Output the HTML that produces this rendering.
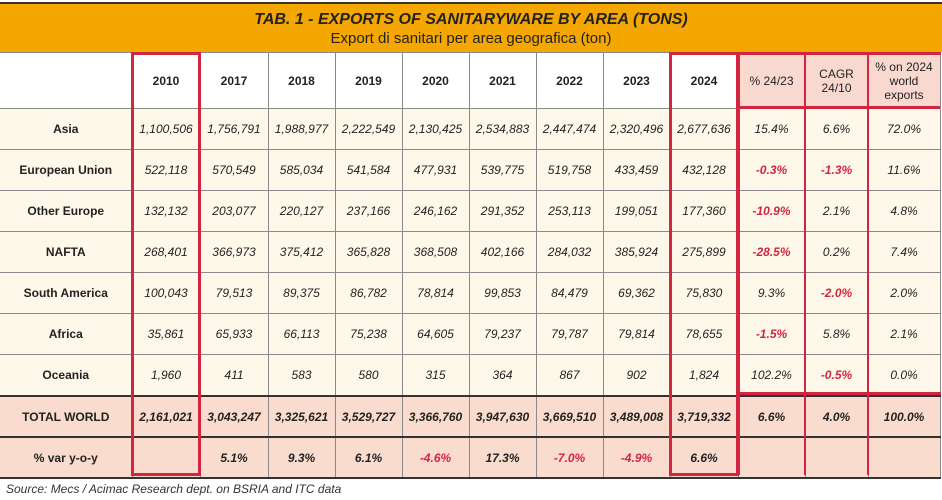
<!DOCTYPE html>
<html><head><meta charset="utf-8"><style>
body{margin:0;width:942px;height:500px;background:#fff;font-family:"Liberation Sans",sans-serif;position:relative;overflow:hidden}
.hd{position:absolute;left:0;top:2px;width:942px;height:50px;background:#F4A700;border-top:2px solid #3a3024;box-sizing:border-box;text-align:center}
.hd .t{font-weight:bold;font-style:italic;font-size:16px;color:#222;margin-top:7px}
.hd .s{font-size:15px;color:#222;margin-top:1px}
table{position:absolute;left:0;top:52px;border-collapse:collapse;table-layout:fixed;width:940px}
td{border:1px solid #8a8a8a;text-align:center;font-size:12px;color:#222;padding:0;font-style:italic}
tr.h td{height:55px;font-style:normal;font-weight:bold;background:#fff}
tr.h td.p{background:#F9D8D0;font-weight:normal}
tr.d td{height:40px;background:#FDF8E9}
tr.d td.l,tr.w td.l{font-style:normal;font-weight:bold}
tr.w td{height:39px;background:#FADCCE;font-weight:bold}
tr.w td.n{font-weight:normal}
tr.w td{border-top:2px solid #333}
tr.last td{border-bottom:2px solid #333}
td:first-child{border-left:none}
.r{color:#D2253F;font-weight:bold}
.rn{color:#D2253F;font-weight:normal}
.box{position:absolute;border:3px solid #D2253F;box-sizing:border-box}
.vl{position:absolute;width:2px;background:#D2253F}
.src{position:absolute;left:6px;top:482px;font-size:12px;font-style:italic;color:#333}
</style></head><body>
<div class="hd"><div class="t">TAB. 1 - EXPORTS OF SANITARYWARE BY AREA (TONS)</div><div class="s">Export di sanitari per area geografica (ton)</div></div>
<table>
<colgroup><col style="width:132px"><col style="width:68px"><col style="width:68px"><col style="width:67px"><col style="width:67px"><col style="width:67px"><col style="width:67px"><col style="width:67px"><col style="width:67px"><col style="width:68px"><col style="width:67px"><col style="width:63px"><col style="width:72px"></colgroup>
<tr class="h"><td></td><td>2010</td><td>2017</td><td>2018</td><td>2019</td><td>2020</td><td>2021</td><td>2022</td><td>2023</td><td>2024</td><td class="p">% 24/23</td><td class="p">CAGR<br>24/10</td><td class="p">% on 2024<br>world<br>exports</td></tr>
<tr class="d"><td class="l">Asia</td><td>1,100,506</td><td>1,756,791</td><td>1,988,977</td><td>2,222,549</td><td>2,130,425</td><td>2,534,883</td><td>2,447,474</td><td>2,320,496</td><td>2,677,636</td><td>15.4%</td><td>6.6%</td><td>72.0%</td></tr>
<tr class="d"><td class="l">European Union</td><td>522,118</td><td>570,549</td><td>585,034</td><td>541,584</td><td>477,931</td><td>539,775</td><td>519,758</td><td>433,459</td><td>432,128</td><td class="r">-0.3%</td><td class="r">-1.3%</td><td>11.6%</td></tr>
<tr class="d"><td class="l">Other Europe</td><td>132,132</td><td>203,077</td><td>220,127</td><td>237,166</td><td>246,162</td><td>291,352</td><td>253,113</td><td>199,051</td><td>177,360</td><td class="r">-10.9%</td><td>2.1%</td><td>4.8%</td></tr>
<tr class="d"><td class="l">NAFTA</td><td>268,401</td><td>366,973</td><td>375,412</td><td>365,828</td><td>368,508</td><td>402,166</td><td>284,032</td><td>385,924</td><td>275,899</td><td class="r">-28.5%</td><td>0.2%</td><td>7.4%</td></tr>
<tr class="d"><td class="l">South America</td><td>100,043</td><td>79,513</td><td>89,375</td><td>86,782</td><td>78,814</td><td>99,853</td><td>84,479</td><td>69,362</td><td>75,830</td><td>9.3%</td><td class="r">-2.0%</td><td>2.0%</td></tr>
<tr class="d"><td class="l">Africa</td><td>35,861</td><td>65,933</td><td>66,113</td><td>75,238</td><td>64,605</td><td>79,237</td><td>79,787</td><td>79,814</td><td>78,655</td><td class="r">-1.5%</td><td>5.8%</td><td>2.1%</td></tr>
<tr class="d"><td class="l">Oceania</td><td>1,960</td><td>411</td><td>583</td><td>580</td><td>315</td><td>364</td><td>867</td><td>902</td><td>1,824</td><td>102.2%</td><td class="r">-0.5%</td><td>0.0%</td></tr>
<tr class="w"><td class="l">TOTAL WORLD</td><td>2,161,021</td><td>3,043,247</td><td>3,325,621</td><td>3,529,727</td><td>3,366,760</td><td>3,947,630</td><td>3,669,510</td><td>3,489,008</td><td>3,719,332</td><td>6.6%</td><td>4.0%</td><td>100.0%</td></tr>
<tr class="w last"><td class="l">% var y-o-y</td><td></td><td>5.1%</td><td>9.3%</td><td>6.1%</td><td class="rn">-4.6%</td><td>17.3%</td><td class="rn">-7.0%</td><td class="rn">-4.9%</td><td>6.6%</td><td></td><td></td><td></td></tr>
</table>
<div class="box" style="left:131px;top:52px;width:70px;height:424px"></div>
<div class="box" style="left:669px;top:52px;width:70px;height:424px"></div>
<div class="box" style="left:737px;top:52px;width:204px;height:343px;border-right:none"></div>
<div class="vl" style="left:804px;top:52px;height:423px"></div>
<div class="vl" style="left:867px;top:52px;height:423px"></div>
<div class="vl" style="left:738px;top:395px;height:80px"></div>
<div class="vl" style="left:738px;top:106px;width:202px;height:3px"></div>
<div class="src">Source: Mecs / Acimac Research dept. on BSRIA and ITC data</div>
</body></html>
